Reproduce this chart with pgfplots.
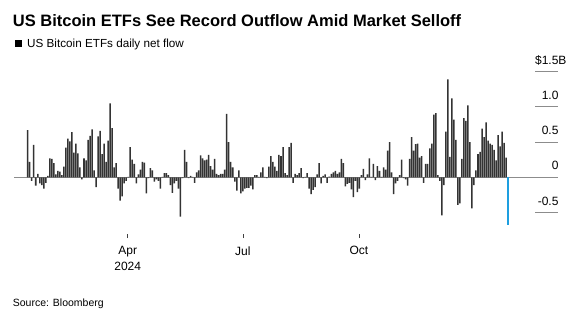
\documentclass[border=0pt]{standalone}
\usepackage{pgfplots}
\usepackage{pgfplotstable}
\pgfplotsset{compat=1.18}
\usepackage{fontspec}
\setmainfont{Liberation Sans}
\definecolor{barc}{HTML}{333333}
\definecolor{bluec}{HTML}{1E9FE0}
\definecolor{gridc}{HTML}{8C8C8C}
% daily net flow, $ billions, Jan 11 - Dec 19 2024 (last value = record outflow)
\pgfplotstableread[row sep=\\]{
v\\0.67\\0.22\\-0.05\\0.46\\-0.12\\0.05\\-0.085\\-0.11\\-0.16\\-0.08\\0.02\\0.27\\0.26\\0.20\\0.04\\0.09\\0.08\\0.03\\0.15\\0.42\\0.55\\0.51\\0.64\\0.35\\0.48\\0.34\\0.14\\-0.03\\0.27\\0.24\\0.53\\0.59\\0.68\\0.10\\-0.14\\0.58\\0.66\\
0.33\\0.48\\0.22\\0.52\\1.05\\0.70\\0.14\\0.20\\-0.16\\-0.33\\-0.27\\-0.085\\-0.05\\0.005\\0.43\\0.25\\0.19\\-0.085\\0.04\\0.11\\0.22\\0.21\\-0.23\\-0.01\\0.13\\0.10\\-0.06\\-0.03\\-0.05\\-0.16\\0.005\\0.06\\0.06\\0.03\\-0.11\\-0.22\\-0.085\\-0.05\\-0.16\\-0.56\\-0.01\\
0.39\\0.22\\-0.01\\0.02\\0.005\\-0.08\\0.07\\0.10\\0.31\\0.27\\0.24\\0.25\\0.32\\0.16\\0.11\\0.26\\0.05\\0.03\\0.05\\0.05\\0.11\\0.90\\0.50\\0.22\\0.14\\-0.06\\-0.19\\0.10\\-0.23\\-0.20\\-0.16\\-0.15\\-0.15\\-0.12\\-0.17\\0.03\\0.03\\0.005\\0.07\\0.14\\
0.005\\-0.01\\0.15\\0.30\\0.22\\0.15\\0.09\\0.32\\0.30\\0.43\\0.06\\0.03\\0.43\\0.49\\-0.08\\0.05\\0.03\\0.06\\0.13\\-0.01\\0.005\\0.06\\-0.16\\-0.24\\-0.18\\-0.14\\0.04\\0.20\\-0.085\\0.02\\0.04\\-0.08\\0.01\\0.05\\0.07\\0.09\\0.05\\0.07\\0.26\\0.20\\
-0.13\\-0.095\\-0.08\\-0.17\\-0.28\\-0.05\\-0.21\\-0.16\\0.03\\0.12\\-0.04\\0.04\\0.27\\0.005\\0.19\\-0.04\\0.16\\0.09\\0.005\\0.14\\0.11\\0.38\\0.50\\0.07\\-0.24\\-0.085\\-0.05\\0.03\\0.25\\-0.01\\-0.03\\-0.12\\0.26\\0.57\\0.38\\0.47\\0.48\\0.28\\0.30\\-0.08\\
0.19\\0.19\\0.41\\0.48\\0.89\\0.91\\0.03\\-0.05\\-0.54\\-0.11\\0.65\\1.39\\0.29\\1.12\\0.82\\0.53\\-0.39\\-0.37\\0.26\\0.84\\0.80\\1.02\\0.50\\-0.44\\-0.11\\0.10\\0.33\\0.36\\0.69\\0.57\\0.78\\0.52\\0.48\\0.46\\0.39\\0.24\\0.60\\0.44\\0.65\\0.49\\0.28\\
}\flows
\begin{document}
\begin{tikzpicture}[x=1pt,y=1pt]
\path[use as bounding box] (0,0) rectangle (580,322);
\node[anchor=base west, inner sep=0, font=\bfseries\fontsize{16.5}{20}\selectfont] at (12.7,295.3) {US Bitcoin ETFs See Record Outflow Amid Market Selloff};
\fill[black] (15,275) rectangle (21.5,281.5);
\node[anchor=base west, inner sep=0, font=\fontsize{11.7}{14}\selectfont] at (27,274.7) {US Bitcoin ETFs daily net flow};
\node[anchor=base west, inner sep=0, font=\fontsize{10.5}{12}\selectfont] at (12.7,15.3) {Source: Bloomberg};
\begin{axis}[
  scale only axis, width=544pt, height=174pt,
  at={(14pt,88pt)}, anchor=south west,
  xmin=-6.82, xmax=263.8, ymin=-0.8054, ymax=1.666,
  axis line style={draw=none},
  clip=false,
  tick align=outside, major tick length=4pt,
  xtick={49.75,107.0,164.8}, xticklabels={Apr\\2024, Jul, Oct},
  xtick pos=bottom,
  xtick style={black!75, line width=0.6pt},
  xticklabel style={align=center, anchor=north, font=\fontsize{12}{16}\selectfont, yshift=-5pt},
  ytick={-0.5,0,0.5,1,1.5}, yticklabels={-0.5,0,0.5,1.0,\$1.5\rlap{B}},
  ytick pos=right, yticklabel pos=right,
  ytick style={draw=none},
  yticklabel style={anchor=base east, font=\fontsize{12}{14}\selectfont, xshift=0pt, yshift=7.5pt},
  extra y ticks={0}, extra y tick labels={},
  extra y tick style={grid=major, major grid style={gridc, line width=0.9pt}},
]
\addplot[ybar, bar width=0.75, bar shift=0pt, fill=barc, draw=none] table[x expr=\coordindex, y=v] {\flows};
\addplot[ybar, bar width=0.8, bar shift=0pt, fill=bluec, draw=none] coordinates {(239,-0.68)};
\draw[gridc, line width=0.9pt] (axis cs:252.4,-0.5) -- (axis cs:263.8,-0.5);
\draw[gridc, line width=0.9pt] (axis cs:252.4,0.5) -- (axis cs:263.8,0.5);
\draw[gridc, line width=0.9pt] (axis cs:252.4,1) -- (axis cs:263.8,1);
\draw[gridc, line width=0.9pt] (axis cs:252.4,1.5) -- (axis cs:263.8,1.5);
\end{axis}
\end{tikzpicture}
\end{document}
